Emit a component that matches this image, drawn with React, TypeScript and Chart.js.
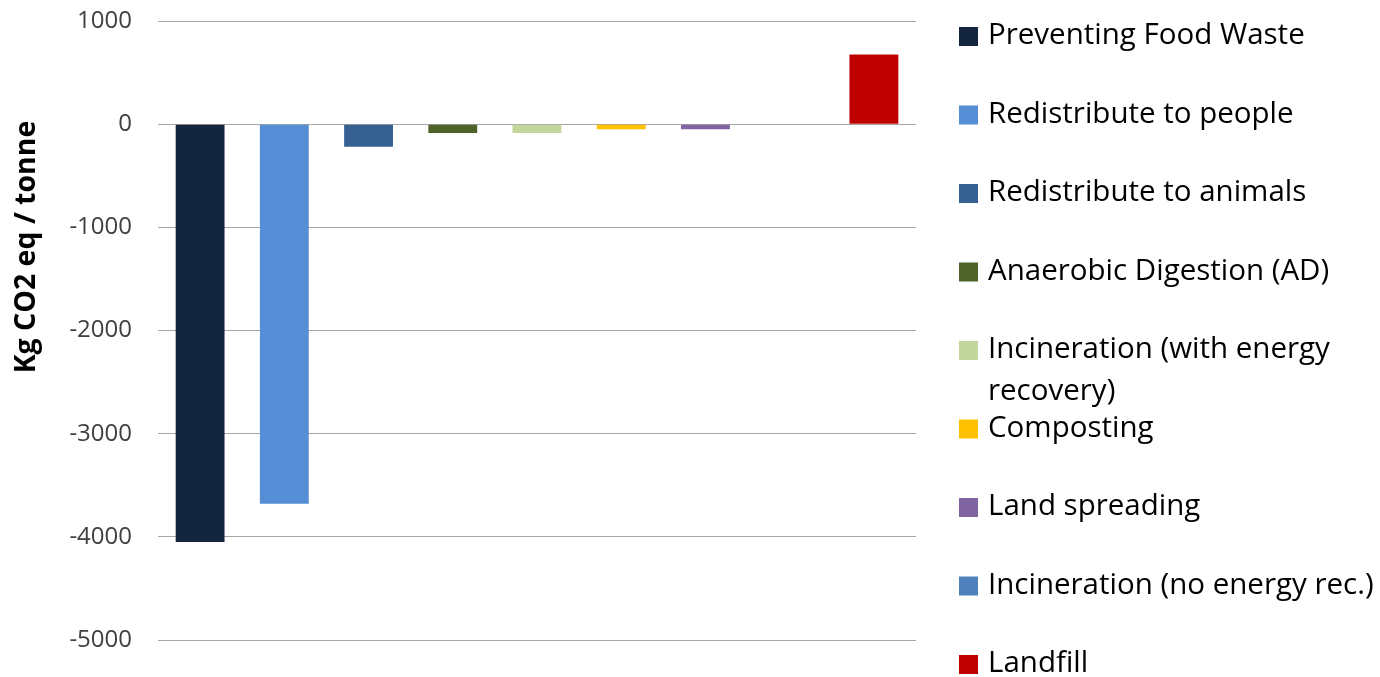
import React, { useEffect, useRef } from "react";
import { Chart, registerables } from "chart.js";

Chart.register(...registerables);

const categories = [
  "Preventing Food Waste",
  "Redistribute to people",
  "Redistribute to animals",
  "Anaerobic Digestion (AD)",
  "Incineration (with energy recovery)",
  "Composting",
  "Land spreading",
  "Incineration (no energy rec.)",
  "Landfill",
];
const legendLines: string[][] = [
  ["Preventing Food Waste"],
  ["Redistribute to people"],
  ["Redistribute to animals"],
  ["Anaerobic Digestion (AD)"],
  ["Incineration (with energy", "recovery)"],
  ["Composting"],
  ["Land spreading"],
  ["Incineration (no energy rec.)"],
  ["Landfill"],
];
const values = [-4050, -3680, -220, -85, -85, -50, -50, 0, 675];
const colors = [
  "#14253f",
  "#558ed5",
  "#366092",
  "#4f6228",
  "#c3d69b",
  "#ffc000",
  "#8064a2",
  "#4f81bd",
  "#c00000",
];
const yTicks = [1000, 0, -1000, -2000, -3000, -4000, -5000];
const yTitle = "Kg CO2 eq / tonne";

const FONT = "'Open Sans', 'DejaVu Sans', sans-serif";

const sideLegend = {
  id: "sideLegend",
  afterDraw(chart: any) {
    const ctx = chart.ctx;
    ctx.save();
    ctx.font = `29.5px ${FONT}`;
    ctx.textBaseline = "middle";
    ctx.textAlign = "left";
    const startY = 36;
    const step = 78.5;
    legendLines.forEach((lines, i) => {
      const y = startY + i * step;
      ctx.fillStyle = colors[i];
      ctx.fillRect(959, y - 9, 19, 19);
      ctx.fillStyle = "#000000";
      lines.forEach((t, j) => {
        ctx.fillText(t, 988, y + j * 42);
      });
    });
    ctx.restore();
  },
};

const yTitlePlugin = {
  id: "yTitlePlugin",
  afterDraw(chart: any) {
    const ctx = chart.ctx;
    ctx.save();
    ctx.font = `bold 28.5px ${FONT}`;
    ctx.fillStyle = "#000000";
    ctx.textAlign = "center";
    ctx.textBaseline = "middle";
    ctx.translate(27, 247);
    ctx.rotate(-Math.PI / 2);
    ctx.fillText(yTitle, 0, 0);
    ctx.restore();
  },
};

export default function App() {
  const ref = useRef<HTMLCanvasElement>(null);
  useEffect(() => {
    document.body.style.margin = "0";
    const chart = new Chart(ref.current!, {
      type: "bar",
      data: {
        labels: categories,
        datasets: [
          {
            label: "Kg CO2 eq / tonne",
            data: values,
            backgroundColor: colors,
            borderWidth: 0,
            barPercentage: 0.58,
            categoryPercentage: 1,
          },
        ],
      },
      options: {
        responsive: false,
        animation: false,
        layout: { padding: { left: 0, right: 464, top: 21, bottom: 37 } },
        plugins: {
          legend: { display: false },
          tooltip: { enabled: false },
        },
        scales: {
          x: { display: false },
          y: {
            min: -5000,
            max: 1000,
            afterFit(scale: any) {
              scale.width = 158;
            },
            afterBuildTicks(scale: any) {
              scale.ticks = yTicks.map((v) => ({ value: v }));
            },
            ticks: {
              padding: 0,
              color: "#404040",
              font: { family: FONT, size: 24 },
              callback: (v: any) => String(v),
            },
            grid: {
              color: "#a6a6a6",
              lineWidth: 1,
              drawTicks: true,
              tickLength: 26,
              tickColor: "rgba(0,0,0,0)",
            },
            border: { display: false },
          },
        },
      },
      plugins: [sideLegend, yTitlePlugin],
    });
    return () => chart.destroy();
  }, []);
  return (
    <div style={{ width: 1380, height: 677, background: "#ffffff" }}>
      <canvas ref={ref} width={1380} height={677} />
    </div>
  );
}
